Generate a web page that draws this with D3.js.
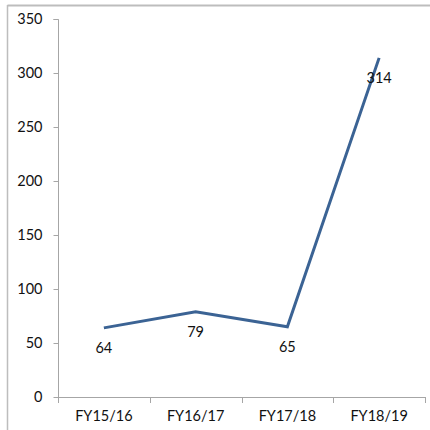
<!DOCTYPE html>
<html><head><meta charset="utf-8">
<script src="https://cdn.jsdelivr.net/npm/d3@7"></script>
<style>body{margin:0;background:#fff}svg{display:block}</style>
</head><body>
<script>
const categories = ["FY15/16","FY16/17","FY17/18","FY18/19"];
const values = [64, 79, 65, 314];
const yTicks = [0, 50, 100, 150, 200, 250, 300, 350];

const W = 430, H = 430;
const svg = d3.select("body").append("svg").attr("width", W).attr("height", H);
const font = "Lato, 'Open Sans', sans-serif";

// frame
svg.append("line").attr("x1",7.5).attr("x2",W).attr("y1",5.5).attr("y2",5.5).attr("stroke","#bdbdbd").attr("stroke-width",2);
svg.append("line").attr("x1",7.5).attr("x2",7.5).attr("y1",5).attr("y2",H).attr("stroke","#bdbdbd").attr("stroke-width",1.5);

const x = d3.scaleBand().domain(categories).range([58, 425]);
const y = d3.scaleLinear().domain([0, 350]).range([397, 19]);

const gy = svg.append("g").attr("transform","translate(58.5,0)")
  .call(d3.axisLeft(y).tickValues(yTicks).tickSize(5).tickPadding(11));
gy.select(".domain").attr("stroke","#a6a6a6").attr("d", `M-5,${y(350)+0.5}H0V${y(0)+0.5}`);
gy.selectAll(".tick line").attr("stroke","#a6a6a6");
gy.selectAll("text").attr("font-family",font).attr("font-size",14.5).attr("fill","#111");

const gx = svg.append("g").attr("transform","translate(0,397.5)")
  .call(d3.axisBottom(x).tickSize(0).tickPadding(13));
gx.select(".domain").attr("stroke","#a6a6a6").attr("d", `M58.5,0H425.5`);
gx.selectAll("text").attr("font-family",font).attr("font-size",14.5).attr("fill","#111");
// band boundary ticks
const bounds = categories.map(c => x(c)).concat([x.range()[1]]);
svg.append("g").selectAll("line").data(bounds).join("line")
  .attr("x1", d => Math.round(d)+0.5).attr("x2", d => Math.round(d)+0.5)
  .attr("y1", 397).attr("y2", 403).attr("stroke","#a6a6a6");

const cx = c => x(c) + x.bandwidth()/2;
const line = d3.line().x((d,i) => cx(categories[i])).y(d => y(d));
svg.append("path").attr("d", line(values)).attr("fill","none")
  .attr("stroke","#3b6394").attr("stroke-width",3).attr("stroke-linejoin","miter");

svg.append("g").selectAll("text").data(values).join("text")
  .attr("x",(d,i)=>cx(categories[i])).attr("y",d=>y(d)+25)
  .attr("text-anchor","middle").attr("font-family",font).attr("font-size",14.5).attr("fill","#111")
  .text(d=>d);
</script>
</body></html>
